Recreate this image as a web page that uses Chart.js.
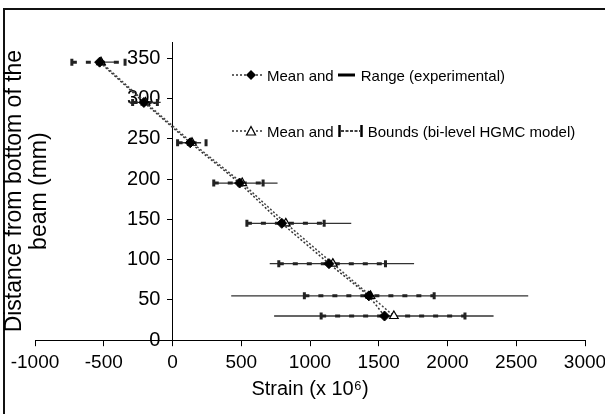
<!DOCTYPE html>
<html>
<head>
<meta charset="utf-8">
<script src="https://cdn.jsdelivr.net/npm/chart.js@4.4.1/dist/chart.umd.min.js"></script>
<style>
  html, body { margin: 0; padding: 0; background: #fff; overflow: hidden; }
  #wrap { position: relative; width: 605px; height: 414px; }
  #frame { position: absolute; left: 3px; top: 8px; width: 700px; height: 500px;
           border-left: 2px solid #111; border-top: 2px solid #111; }
  canvas { position: absolute; left: 0; top: 0; }
  .row { position: absolute; left: 232px; display: flex; align-items: center; white-space: nowrap;
         font: 15px "Liberation Sans", Arial, sans-serif; color: #000; height: 18px; }
  .row svg { flex: none; }
</style>
</head>
<body>
<div id="wrap">
  <div id="frame"></div>
  <canvas id="chart" width="605" height="414"></canvas>

  <!-- legend -->
  <div class="row" style="top:66px">
    <svg width="32" height="14" style="margin-right:3px">
      <line x1="0" y1="7" x2="32" y2="7" stroke="#333" stroke-width="1.5" stroke-dasharray="2,2"/>
      <polygon points="19,2 24,7 19,12 14,7" fill="#000"/>
    </svg>
    <span>Mean and</span>
    <svg width="17" height="14" style="margin:0 6px 0 4px">
      <line x1="0" y1="7" x2="17" y2="7" stroke="#000" stroke-width="3"/>
    </svg>
    <span>Range (experimental)</span>
  </div>
  <div class="row" style="top:122px">
    <svg width="32" height="14" style="margin-right:3px">
      <line x1="0" y1="7" x2="32" y2="7" stroke="#333" stroke-width="1.5" stroke-dasharray="2,2"/>
      <polygon points="19,2.5 23.5,11 14.5,11" fill="#fff" stroke="#000" stroke-width="1.2"/>
    </svg>
    <span>Mean and</span>
    <svg width="25" height="14" style="margin:0 5px 0 4px">
      <line x1="1.5" y1="1" x2="1.5" y2="13" stroke="#000" stroke-width="2.5"/>
      <line x1="3" y1="7" x2="22" y2="7" stroke="#000" stroke-width="1.5" stroke-dasharray="3,1.5"/>
      <line x1="23.5" y1="1" x2="23.5" y2="13" stroke="#000" stroke-width="2.5"/>
    </svg>
    <span>Bounds (bi-level HGMC model)</span>
  </div>
</div>

<script>
// heights of the measuring points (mm)
const levels = [345, 295, 245, 195, 145, 95, 55, 30];

// experimental mean and range (strain x 10^6)
const expMean = [-530, -208, 129, 488, 795, 1138, 1428, 1542];
const expMin = [-561, -319, 54, 317, 537, 707, 427, 739];
const expMax = [-403, -86, 208, 764, 1300, 1757, 2587, 2335];

// bi-level HGMC model mean and bounds
const modelMean = [-520, -196, 142, 507, 824, 1166, 1440, 1610];
const modelLow = [-732, -290, 37, 300, 541, 773, 959, 1081];
const modelHigh = [-345, -110, 244, 659, 1103, 1549, 1903, 2127];

// axis ticks
const xTicks = [-1000, -500, 0, 500, 1000, 1500, 2000, 2500, 3000];
const yTicks = [0, 50, 100, 150, 200, 250, 300, 350];

const fontFamily = '"Liberation Sans", Arial, sans-serif';

const points = (xs) => levels.map((y, i) => ({ x: xs[i], y }));
// horizontal segments, split by a null point so the line breaks between levels
const segments = (lo, hi) => levels.flatMap((y, i) => [
    { x: lo[i], y }, { x: hi[i], y }, { x: hi[i], y: null }
]);

const ctx = document.getElementById('chart').getContext('2d');
new Chart(ctx, {
    type: 'scatter',
    data: {
        datasets: [
            {
                label: 'Mean (experimental)',
                data: points(expMean),
                showLine: true,
                borderColor: '#333',
                borderWidth: 1.5,
                borderDash: [2, 2],
                pointStyle: 'rectRot',
                pointRadius: 5,
                pointBackgroundColor: '#000',
                pointBorderColor: '#000',
                pointBorderWidth: 1
            },
            {
                label: 'Mean (bi-level HGMC model)',
                data: points(modelMean),
                showLine: true,
                borderColor: '#444',
                borderWidth: 1.5,
                borderDash: [2, 2],
                pointStyle: 'triangle',
                pointRadius: 5,
                pointBackgroundColor: '#fff',
                pointBorderColor: '#000',
                pointBorderWidth: 1.2
            },
            {
                label: 'Bounds (bi-level HGMC model)',
                data: segments(modelLow, modelHigh),
                showLine: true,
                spanGaps: false,
                borderColor: '#222',
                borderWidth: 3,
                borderDash: [5, 9],
                pointStyle: 'line',
                rotation: 90,
                pointRadius: 3.5,
                pointBorderWidth: 3,
                pointBorderColor: '#222'
            },
            {
                label: 'Range (experimental)',
                data: segments(expMin, expMax),
                showLine: true,
                spanGaps: false,
                borderColor: '#333',
                borderWidth: 1.3,
                pointRadius: 0
            }
        ]
    },
    options: {
        responsive: false,
        animation: false,
        devicePixelRatio: 1,
        layout: { padding: { left: 2, right: 20, top: 42, bottom: 15 } },
        plugins: {
            legend: { display: false },
            tooltip: { enabled: false }
        },
        scales: {
            x: {
                type: 'linear',
                position: 'bottom',
                min: -1000,
                max: 3000,
                afterBuildTicks: (s) => { s.ticks = xTicks.map(v => ({ value: v })); },
                afterFit: (s) => { s.paddingLeft = 0; s.paddingRight = 0; },
                grid: { drawOnChartArea: false, tickLength: 6, color: '#000', tickWidth: 1 },
                border: { color: '#000', width: 1 },
                ticks: {
                    color: '#000', padding: 5,
                    font: { family: fontFamily, size: 19 },
                    callback: (v) => String(v)
                },
                title: {
                    display: true,
                    text: 'Strain (x 10\u2076)',
                    color: '#000',
                    padding: { top: 0, bottom: 0 },
                    font: { family: fontFamily, size: 20, lineHeight: 1 }
                }
            },
            // axis line and tick marks crossing at strain = 0
            y: {
                type: 'linear',
                position: { x: 0 },
                min: 0,
                max: 370,
                afterBuildTicks: (s) => { s.ticks = yTicks.map(v => ({ value: v })); },
                grid: { drawOnChartArea: false, tickLength: 5, color: '#000', tickWidth: 1 },
                border: { color: '#000', width: 1 },
                ticks: { display: false }
            },
            // tick labels of the crossing axis, a little left of it
            yLabels: {
                type: 'linear',
                axis: 'y',
                position: { x: -88 },
                min: 0,
                max: 370,
                afterBuildTicks: (s) => { s.ticks = yTicks.map(v => ({ value: v })); },
                grid: { display: false },
                border: { display: false },
                ticks: {
                    color: '#000',
                    font: { family: fontFamily, size: 20 },
                    callback: (v) => String(v)
                }
            },
            yTitle: {
                type: 'linear',
                position: 'left',
                axis: 'y',
                min: 0,
                max: 370,
                afterFit: (s) => { s.width = 33; },
                grid: { display: false },
                border: { display: false },
                ticks: { display: false },
                title: {
                    display: true,
                    text: ['Distance from bottom of the', 'beam (mm)'],
                    color: '#000',
                    padding: 0,
                    font: { family: fontFamily, size: 23, lineHeight: 1.1 }
                }
            }
        }
    }
});
</script>
</body>
</html>
